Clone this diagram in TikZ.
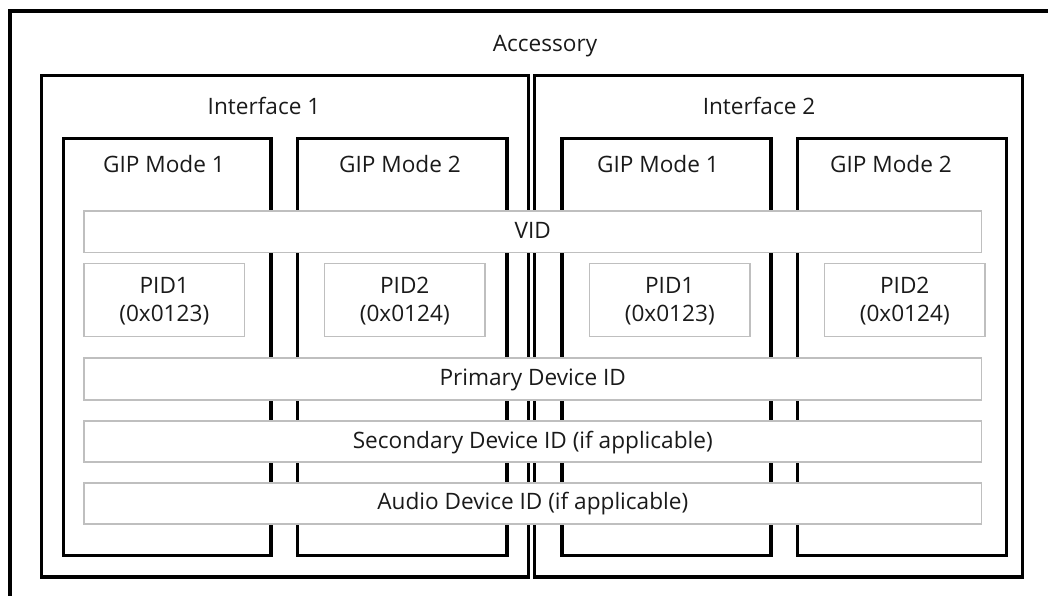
\documentclass[tikz,border=0pt]{standalone}
\usepackage{fontspec}
\setmainfont{Open Sans}
\definecolor{idgrey}{HTML}{BFBFBF}
\definecolor{txt}{HTML}{1A1A1A}
\begin{document}
\begin{tikzpicture}[x=1pt,y=-1pt,
  frame/.style={draw=black,line width=3.2pt,inner sep=0pt,outer sep=0pt,anchor=north west},
  idbox/.style={draw=idgrey,line width=1.2pt,fill=white,inner sep=0pt,outer sep=0pt,anchor=north west},
  lbl/.style={anchor=base,inner sep=0pt,text=txt,font=\fontsize{22.6}{27}\selectfont}
]
\clip (0,0) rectangle (1048,596);

% containers: accessory, interfaces and GIP modes
\node[frame,minimum width=1100pt,minimum height=700pt] (acc) at (10,11) {};
\node[frame,minimum width=487pt,minimum height=501.5pt] (if1) at (41.5,75.5) {};
\node[frame,minimum width=488pt,minimum height=501.5pt] (if2) at (534.5,75.5) {};
\node[frame,minimum width=207.5pt,minimum height=417pt] (g11) at (63.5,138.5) {};
\node[frame,minimum width=209.5pt,minimum height=417pt] (g12) at (297.5,138.5) {};
\node[frame,minimum width=209pt,minimum height=417pt] (g21) at (562,138.5) {};
\node[frame,minimum width=209pt,minimum height=417pt] (g22) at (797.5,138.5) {};

% identifier rows laid across the modes
\node[idbox,minimum width=897.5pt,minimum height=41.5pt] (vid) at (84,211) {};
\node[idbox,minimum width=160.5pt,minimum height=73pt] (p11) at (84,263.5) {};
\node[idbox,minimum width=160.5pt,minimum height=73pt] (p12) at (324.5,263.5) {};
\node[idbox,minimum width=160.5pt,minimum height=73pt] (p21) at (589.5,263.5) {};
\node[idbox,minimum width=160.5pt,minimum height=73pt] (p22) at (824.5,263.5) {};
\node[idbox,minimum width=897.5pt,minimum height=42pt] (pri) at (84,358) {};
\node[idbox,minimum width=897.5pt,minimum height=41pt] (sec) at (84,421) {};
\node[idbox,minimum width=897.5pt,minimum height=41pt] (aud) at (84,483) {};

% headings
\node[lbl] (acct) at (545,52) {Accessory};
\node[lbl] (if1t) at (264,115) {Interface 1};
\node[lbl] (if2t) at (759,115) {Interface 2};
\node[lbl] (g11t) at (164,172) {GIP Mode 1};
\node[lbl] (g12t) at (400,172) {GIP Mode 2};
\node[lbl] (g21t) at (658,172) {GIP Mode 1};
\node[lbl] (g22t) at (891,172) {GIP Mode 2};

% row texts
\node[lbl] (vidt) at ([yshift=-27pt]vid.north) {VID};
\node[lbl] (prit) at ([yshift=-27pt]pri.north) {Primary Device ID};
\node[lbl] (sect) at ([yshift=-27pt]sec.north) {Secondary Device ID (if applicable)};
\node[lbl] (audt) at ([yshift=-26.5pt]aud.north) {Audio Device ID (if applicable)};

% product ids
\foreach \b/\n/\v in {p11/1/0123,p12/2/0124,p21/1/0123,p22/2/0124}{
  \node[lbl] (\b a) at ([yshift=-29.8pt]\b.north) {PID\n};
  \node[lbl] (\b b) at ([yshift=-58.2pt]\b.north) {(0x\v)};
}
\end{tikzpicture}
\end{document}
